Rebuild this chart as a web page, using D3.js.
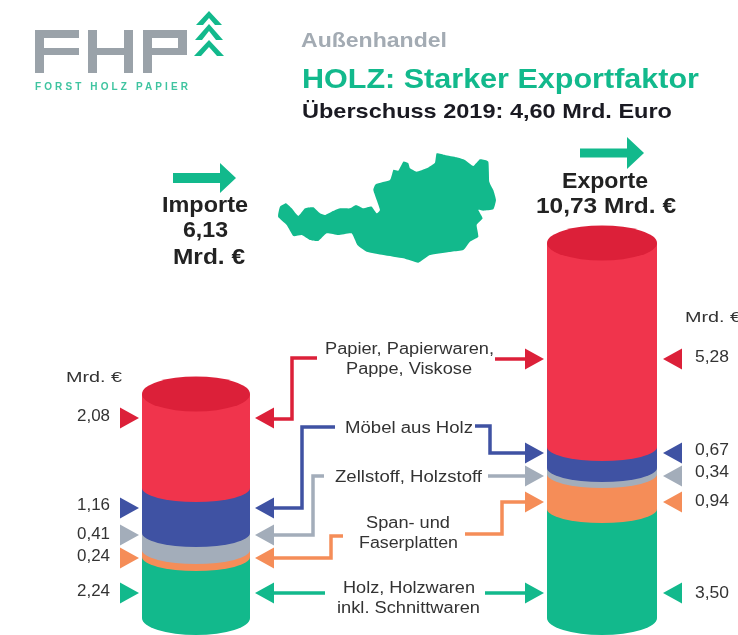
<!DOCTYPE html>
<html>
  <head>
    <meta charset="utf-8">
    <style>
      body { margin: 0; background: #fff; }
      svg { display: block; filter: blur(0.6px); font-family: "Liberation Sans", Arial, sans-serif; }
    </style>
  </head>
  <body>
    <script src="https://d3js.org/d3.v7.min.js"></script>
    <div id="chart"></div>
    <script>
      // data, stacked bottom to top
      var categories = ["Holz", "Platten", "Zellstoff", "Moebel", "Papier"];
      var importValues = [2.24, 0.24, 0.41, 1.16, 2.08];
      var exportValues = [3.50, 0.94, 0.34, 0.67, 5.28];
      var importLabels = ["2,24", "0,24", "0,41", "1,16", "2,08"];
      var exportLabels = ["3,50", "0,94", "0,34", "0,67", "5,28"];
      var colors = ["#12b98c", "#f58d58", "#a3adba", "#3f52a3", "#f0344c"];
      var arrowColors = ["#12b98c", "#f58d58", "#a3adba", "#3f52a3", "#dc2039"];

      var w = 738;
      var h = 635;
      var svg = d3.select("#chart").append("svg").attr("width", w).attr("height", h);

      function cumulate(values){
        return [0].concat(Array.from(d3.cumsum(values)));
      }

      // the bands in the original are not to scale, so the scale is piecewise:
      // cumulated value -> band edge as drawn in the graphic
      var importY = d3.scaleLinear().domain(cumulate(importValues)).range([618, 557, 550, 533, 488, 394]);
      var exportY = d3.scaleLinear().domain(cumulate(exportValues)).range([618, 509, 474, 468, 447, 243]);

      function label(x, y, str, size, weight, color, width){
        return svg.append("text")
        .attr("x", x)
        .attr("y", y)
        .attr("font-size", size)
        .attr("font-weight", weight)
        .attr("fill", color)
        .attr("textLength", width)
        .attr("lengthAdjust", "spacingAndGlyphs")
        .text(str);
      }

      //Draw cylinder
      function cylinder(values, y, x0, x1){
        var stack = cumulate(values);
        var rx = (x1 - x0) / 2;
        var bands = values.map(function(d, i){
          return {top: y(stack[i + 1]), bottom: y(stack[i]), color: colors[i], ry: i == 0 ? 17 : 14};
        });
        svg.selectAll(null)
        .data(bands)
        .enter()
        .append("path")
        .attr("fill", function(d){return d.color;})
        .attr("d", function(d){
          return "M" + x0 + "," + d.top + "L" + x0 + "," + d.bottom +
            "A" + rx + "," + d.ry + " 0 0 0 " + x1 + "," + d.bottom + "L" + x1 + "," + d.top + "Z";
        });
        svg.append("ellipse")
        .attr("cx", (x0 + x1) / 2)
        .attr("cy", y(stack[stack.length - 1]))
        .attr("rx", rx)
        .attr("ry", 17.5)
        .attr("fill", "#dc2039");
      }
      cylinder(importValues, importY, 142, 250);
      cylinder(exportValues, exportY, 547, 657);

      //Triangles
      function triangle(tipX, y, dir, color){
        svg.append("path")
        .attr("fill", color)
        .attr("d", "M" + tipX + "," + y + "L" + (tipX - dir * 19) + "," + (y - 10.5) + "V" + (y + 10.5) + "Z");
      }
      var importMarks = [593, 558, 535, 508, 418];
      var exportMarks = [593, 502, 476, 453, 359];
      var importTextY = [596, 561, 539, 510, 421];
      var exportTextY = [598, 506, 477, 455, 362];
      categories.forEach(function(c, i){
        triangle(139, importMarks[i], 1, arrowColors[i]);
        triangle(255, importMarks[i], -1, arrowColors[i]);
        triangle(544, exportMarks[i], 1, arrowColors[i]);
        triangle(663, exportMarks[i], -1, arrowColors[i]);
        label(77, importTextY[i], importLabels[i], 16, "normal", "#333", 33);
        label(695, exportTextY[i], exportLabels[i], 16, "normal", "#333", 34);
      });

      //Connectors from the labels to the triangles
      var connectors = [
        [0, [[325, 593], [270, 593]]],
        [0, [[485, 593], [528, 593]]],
        [1, [[343, 536], [331, 536], [331, 558], [270, 558]]],
        [1, [[465, 534], [502, 534], [502, 502], [528, 502]]],
        [2, [[324, 476], [313, 476], [313, 535], [270, 535]]],
        [2, [[488, 476], [528, 476]]],
        [3, [[335, 427], [302, 427], [302, 508], [270, 508]]],
        [3, [[475, 426], [490, 426], [490, 453], [528, 453]]],
        [4, [[317, 358], [292, 358], [292, 419], [270, 419]]],
        [4, [[495, 359], [528, 359]]]
      ];
      var connectorLine = d3.line();
      svg.selectAll(".connector")
      .data(connectors)
      .enter()
      .append("path")
      .attr("class", "connector")
      .attr("fill", "none")
      .attr("stroke-width", 3.5)
      .attr("stroke", function(d){return arrowColors[d[0]];})
      .attr("d", function(d){return connectorLine(d[1]);});

      //Middle labels
      var middleLabels = [
        ["Papier, Papierwaren,", 325, 354, 169],
        ["Pappe, Viskose", 346, 374, 126],
        ["Möbel aus Holz", 345, 433, 128],
        ["Zellstoff, Holzstoff", 335, 482, 147],
        ["Span- und", 366, 528, 84],
        ["Faserplatten", 359, 548, 99],
        ["Holz, Holzwaren", 343, 593, 132],
        ["inkl. Schnittwaren", 337, 613, 143]
      ];
      middleLabels.forEach(function(d){
        label(d[1], d[2], d[0], 16, "normal", "#333", d[3]);
      });
      label(66, 382, "Mrd. €", 14, "normal", "#333", 56);
      label(685, 322, "Mrd. €", 14, "normal", "#333", 56);

      //Titles
      label(301, 47, "Außenhandel", 21, "bold", "#a3abb3", 146);
      label(302, 88, "HOLZ: Starker Exportfaktor", 27, "bold", "#12b98c", 397);
      label(302, 118, "Überschuss 2019: 4,60 Mrd. Euro", 21, "bold", "#1a1a22", 370);
      label(162, 212, "Importe", 22, "bold", "#222", 86);
      label(183, 237, "6,13", 22, "bold", "#222", 45);
      label(173, 264, "Mrd. €", 22, "bold", "#222", 72);
      label(562, 188, "Exporte", 22, "bold", "#222", 86);
      label(536, 213, "10,73 Mrd. €", 22, "bold", "#222", 140);

      //Big arrows
      function bigArrow(x0, x1, tip, y, half, head){
        svg.append("path")
        .attr("fill", "#12b98c")
        .attr("d", "M" + x0 + "," + (y - half) + "H" + x1 + "V" + (y - head) + "L" + tip + "," + y +
          "L" + x1 + "," + (y + head) + "V" + (y + half) + "H" + x0 + "Z");
      }
      bigArrow(173, 220, 236, 178, 5, 15);
      bigArrow(580, 627, 644, 153, 4.5, 16);

      //Map of Austria, traced in a 3x grid
      var austria = [[25,250],[30,230],[48,220],[65,235],[85,258],[105,235],[130,232],[150,250],[165,255],[185,245],
        [210,235],[240,235],[258,225],[280,235],[305,230],[320,250],[330,240],[322,215],[310,180],[318,162],[360,150],
        [370,120],[385,122],[400,95],[415,100],[420,115],[440,125],[470,115],[495,98],[500,70],[525,75],[560,82],
        [585,90],[610,108],[630,88],[655,95],[658,155],[670,180],[678,210],[670,238],[640,242],[625,240],[638,265],
        [620,285],[625,320],[600,335],[580,360],[545,365],[480,375],[445,398],[400,385],[340,375],[290,365],[262,345],
        [245,310],[205,315],[170,310],[145,333],[120,330],[95,315],[70,318],[50,285],[25,262]];
      svg.append("path")
      .attr("transform", "translate(270,130) scale(0.3333)")
      .attr("fill", "#12b98c")
      .attr("d", d3.line().curve(d3.curveCardinalClosed.tension(0.6))(austria));

      //Logo
      svg.append("path")
      .attr("fill", "#9aa2a9")
      .attr("fill-rule", "evenodd")
      .attr("d", "M35,30H79V38H44V48H79V55H44V73H35Z" +
        "M88,30H97V48H124V30H133V73H124V55H97V73H88Z" +
        "M143,30H187V55H152V73H143ZM152,38V48H178V38Z");
      label(35, 90, "FORST HOLZ PAPIER", 10, "bold", "#3fc4a0", 153).attr("lengthAdjust", "spacing");
      var chevrons = [[11, 25, 196, 222], [24, 40, 195, 223], [40, 56, 194, 224]];
      svg.selectAll(".chevron")
      .data(chevrons)
      .enter()
      .append("path")
      .attr("class", "chevron")
      .attr("fill", "#12b98c")
      .attr("d", function(d){
        var mid = (d[2] + d[3]) / 2;
        return "M" + d[2] + "," + d[1] + "L" + mid + "," + d[0] + "L" + d[3] + "," + d[1] +
          "H" + (d[3] - 7) + "L" + mid + "," + (d[0] + 7) + "L" + (d[2] + 7) + "," + d[1] + "Z";
      });
    </script>
  </body>
</html>
